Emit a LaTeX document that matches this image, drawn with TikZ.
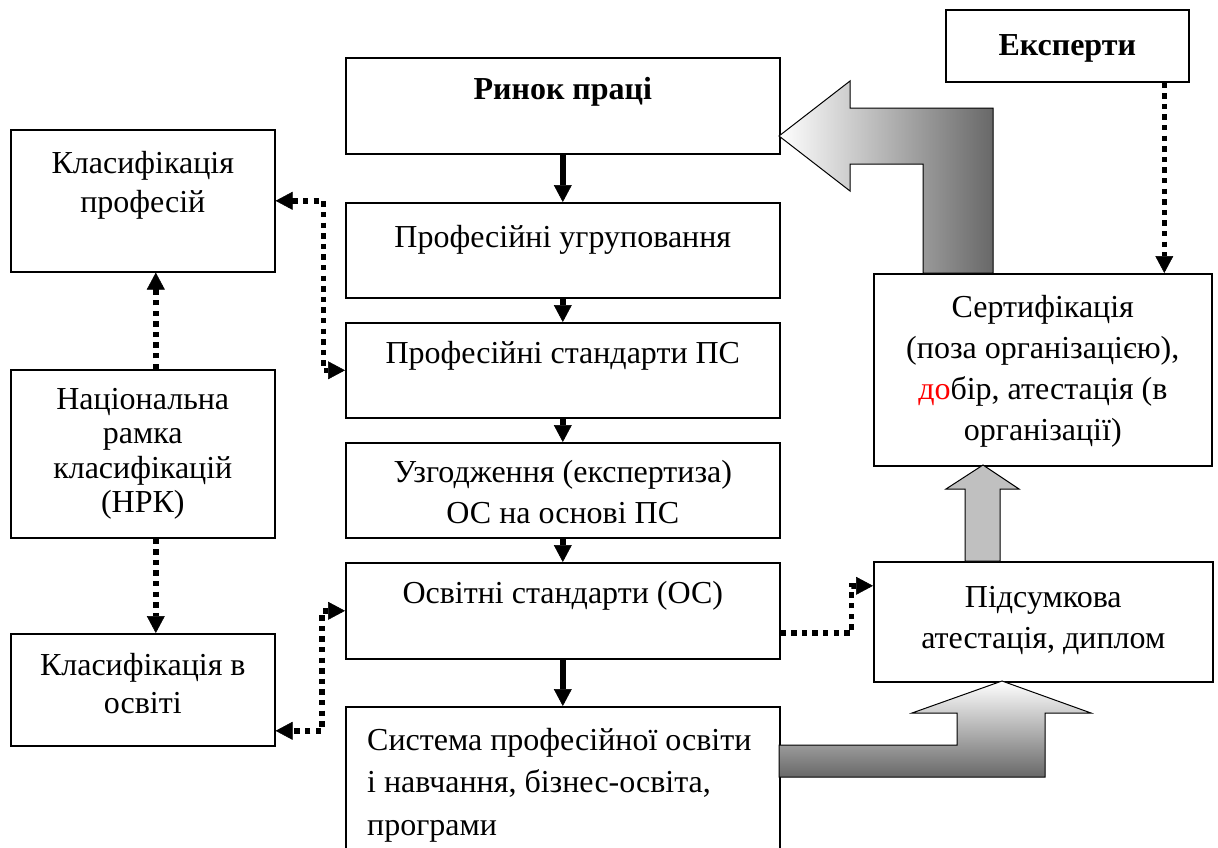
\documentclass[tikz,border=0pt]{standalone}
\usepackage{fontspec}
\setmainfont{Liberation Serif}
\usetikzlibrary{positioning, arrows.meta}
\definecolor{ink}{RGB}{0,0,0}
\definecolor{pale}{RGB}{192,192,192}
\definecolor{dark}{RGB}{104,104,104}
\definecolor{mark}{RGB}{255,0,0}

\begin{document}
\begin{tikzpicture}[
  x=1pt, y=-1pt,
  box/.style={draw=ink, line width=1.6pt, inner sep=0pt, anchor=north west},
  txt/.style={align=center, inner sep=0pt, font=\fontsize{32}{41}\selectfont},
  txtb/.style={txt, font=\fontsize{32}{41}\selectfont\bfseries},
  flow/.style={draw=ink, line width=5.5pt,
               -{Triangle[length=17pt, width=18pt, line width=0.5pt]}},
  dots/.style={draw=ink, line width=5.6pt, dash pattern=on 5.4pt off 5.2pt},
  dotarr/.style={dots, -{Triangle[length=17pt, width=18pt, line width=0.5pt]}},
  dotboth/.style={dots, {Triangle[length=17pt, width=18pt, line width=0.5pt]}-{Triangle[length=17pt, width=18pt, line width=0.5pt]}},
  blk/.style={draw=ink, line width=1pt}]
  \useasboundingbox (0,0) rectangle (1218,847);
  % centre column
  \node[box, minimum width=434, minimum height=96] (rp) at (345,57) {};
  \node[box, minimum width=434, minimum height=95] (pu) at (345,202) {};
  \node[box, minimum width=434, minimum height=95] (ps) at (345,322) {};
  \node[box, minimum width=434, minimum height=95] (uz) at (345,442) {};
  \node[box, minimum width=434, minimum height=96] (os) at (345,562) {};
  \node[box, minimum width=434, minimum height=150] (sy) at (345,706) {};
  \node[txtb, below=20pt of rp.north] (rp-t) {Ринок праці};
  \node[txt, below=23pt of pu.north] (pu-t) {Професійні угруповання};
  \node[txt, below=19pt of ps.north] (ps-t) {Професійні стандарти ПС};
  \node[txt, below=18pt of uz.north] (uz-t) {Узгодження (експертиза)\\ОС на основі ПС};
  \node[txt, below=19pt of os.north] (os-t) {Освітні стандарти (ОС)};
  \node[txt, align=left, font=\fontsize{32}{42.5}\selectfont,
        below right=22pt and 22pt of sy.north west] (sy-t)
        {Система професійної освіти\\і навчання, бізнес-освіта,\\програми};
  % left column
  \node[box, minimum width=264, minimum height=142] (kp) at (10,129) {};
  \node[box, minimum width=264, minimum height=168] (nrk) at (10,369) {};
  \node[box, minimum width=264, minimum height=112] (ko) at (10,633) {};
  \node[txt, font=\fontsize{32}{39}\selectfont, below=22pt of kp.north] (kp-t)
        {Класифікація\\професій};
  \node[txt, font=\fontsize{32}{34.5}\selectfont, below=19pt of nrk.north] (nrk-t)
        {Національна\\рамка\\класифікацій\\(НРК)};
  \node[txt, font=\fontsize{32}{38}\selectfont, below=20pt of ko.north] (ko-t)
        {Класифікація в\\освіті};
  % right column
  \node[box, minimum width=243, minimum height=72] (ex) at (945,9) {};
  \node[box, minimum width=338, minimum height=192] (ce) at (873,273) {};
  \node[box, minimum width=339, minimum height=120] (pa) at (873,561) {};
  \node[txtb, below=25pt of ex.north] (ex-t) {Експерти};
  \node[txt, below=22pt of ce.north] (ce-t)
        {Сертифікація\\(поза організацією),\\{\color{mark}до}бір, атестація (в\\організації)};
  \node[txt, below=25pt of pa.north] (pa-t) {Підсумкова\\атестація, диплом};

  % solid flow down the centre
  \draw[flow] (rp) -- (pu);
  \draw[flow] (pu) -- (ps);
  \draw[flow] (ps) -- (uz);
  \draw[flow] (uz) -- (os);
  \draw[flow] (os) -- (sy);

  % dotted links
  \draw[dotboth] (kp.east) -- ++(48,0) |- (ps.west);
  \draw[dotboth] (os.west) -- ++(-23,0) |- ([yshift=-41pt]ko.east);
  \draw[dotarr] ([yshift=-22pt]os.east) -- ++(71,0) |- ([yshift=36pt]pa.west);
  \draw[dotarr] ([xshift=13pt]nrk.north) -- ([xshift=13pt]kp.south);
  \draw[dotarr] ([xshift=13pt]nrk.south) -- ([xshift=13pt]ko.north);
  \coordinate (exo) at ([xshift=97pt]ex.south);
  \draw[dotarr] (exo) -- (exo |- ce.north);

  % block arrows
  \draw[blk, left color=white, right color=dark]
    (923,273) -- (923,164) -- (850,164) -- (850,191) -- (779,136)
    -- (850,81) -- (850,108) -- (993,108) -- (993,273) -- cycle;
  \draw[blk, fill=pale]
    (965,561) -- (965,489) -- (946,489) -- (983,465) -- (1019,489)
    -- (1000,489) -- (1000,561) -- cycle;
  \draw[blk, top color=white, bottom color=dark]
    (779,745) -- (957,745) -- (957,713) -- (912,713) -- (1002,681)
    -- (1091,713) -- (1045,713) -- (1045,777) -- (779,777) -- cycle;
\end{tikzpicture}
\end{document}
